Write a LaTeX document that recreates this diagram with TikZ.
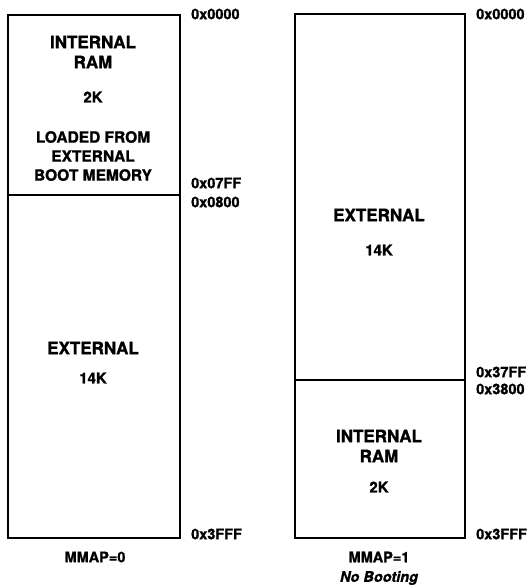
\documentclass[tikz,border=0pt]{standalone}
\usepackage{fontspec}
\setmainfont{TeX Gyre Heros}[BoldFeatures={FakeBold=1.2},BoldItalicFeatures={FakeBold=1.2}]
\begin{document}
\begin{tikzpicture}[x=1pt,y=-1pt,
  region/.style={draw=black,line width=2pt,rectangle,inner sep=0pt,anchor=north west},
  biglbl/.style={font=\bfseries\fontsize{17}{20}\selectfont,align=center,inner sep=0pt},
  midlbl/.style={font=\bfseries\fontsize{15.5}{19}\selectfont,align=center,inner sep=0pt},
  sizelbl/.style={font=\bfseries\fontsize{15}{17}\selectfont,inner sep=0pt},
  addr/.style={font=\bfseries\fontsize{14.5}{16}\selectfont,anchor=west,inner sep=0pt},
  caption/.style={font=\bfseries\fontsize{14.5}{16}\selectfont,inner sep=0pt}]
\useasboundingbox (0,0) rectangle (531,587);
% left map (MMAP=0)
\node[region,minimum width=172pt,minimum height=180pt] (lint) at (7,14) {};
\node[region,minimum width=172pt,minimum height=343pt] (lext) at (7,194) {};
\node[biglbl] (lt1) at (93,52) {INTERNAL\\RAM};
\node[sizelbl] (lt2) at (93,97) {2K};
\node[midlbl] (lt3) at (93,156) {LOADED FROM\\EXTERNAL\\BOOT MEMORY};
\node[biglbl] (lt4) at (93,348) {EXTERNAL};
\node[sizelbl] (lt5) at (93,378) {14K};
\node[addr] (la1) at (191,14) {0x0000};
\node[addr] (la2) at (191,183) {0x07FF};
\node[addr] (la3) at (191,202) {0x0800};
\node[addr] (la4) at (191,534) {0x3FFF};
\node[caption] (lc) at (95,557) {MMAP=0};
% right map (MMAP=1)
\node[region,minimum width=170pt,minimum height=366pt] (rext) at (294,13) {};
\node[region,minimum width=170pt,minimum height=158pt] (rint) at (294,379) {};
\node[biglbl] (rt1) at (379,215) {EXTERNAL};
\node[sizelbl] (rt2) at (379,250) {14K};
\node[biglbl] (rt3) at (379,446) {INTERNAL\\RAM};
\node[sizelbl] (rt4) at (379,487) {2K};
\node[addr] (ra1) at (476,14) {0x0000};
\node[addr] (ra2) at (476,372) {0x37FF};
\node[addr] (ra3) at (476,389) {0x3800};
\node[addr] (ra4) at (476,534) {0x3FFF};
\node[caption] (rc1) at (379,557) {MMAP=1};
\node[caption,font=\bfseries\itshape\fontsize{14.5}{16}\selectfont] (rc2) at (379,578) {No Booting};
\end{tikzpicture}
\end{document}
